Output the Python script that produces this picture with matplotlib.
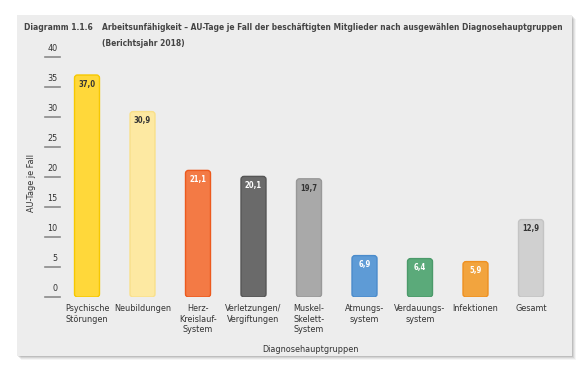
import matplotlib
matplotlib.use("Agg")
import matplotlib.pyplot as plt
from matplotlib.patches import FancyBboxPatch, Rectangle
from matplotlib.transforms import blended_transform_factory

# data
categories = ["Psychische\nStörungen", "Neubildungen", "Herz-\nKreislauf-\nSystem",
              "Verletzungen/\nVergiftungen", "Muskel-\nSkelett-\nSystem", "Atmungs-\nsystem",
              "Verdauungs-\nsystem", "Infektionen", "Gesamt"]
values = [37.0, 30.9, 21.1, 20.1, 19.7, 6.9, 6.4, 5.9, 12.9]
value_labels = ["37,0", "30,9", "21,1", "20,1", "19,7", "6,9", "6,4", "5,9", "12,9"]
yticks = [0, 5, 10, 15, 20, 25, 30, 35, 40]

colors = ["#FFD83A", "#FDE9A2", "#F37A45", "#6A6A6A", "#A9A9A9", "#5E9BD6", "#5BAA7A", "#F2A43E", "#D0D0D0"]
edges = ["#F6C800", "#F9E08A", "#EC5A1E", "#555555", "#989898", "#4A8BCB", "#4B9A6A", "#EE9020", "#C4C4C4"]
label_colors = ["#333333", "#333333", "white", "white", "#333333", "white", "white", "white", "#333333"]

plt.rcParams["font.family"] = ["DejaVu Sans"]
plt.rcParams["font.stretch"] = "condensed"

W, H = 587, 373
fig = plt.figure(figsize=(W / 100, H / 100), dpi=100)
fig.patch.set_facecolor("white")

def fx(px):
    return px / W

def fy(py):
    return 1 - py / H

# panel with a soft shadow
for k, a in enumerate([0.10, 0.08, 0.06, 0.04]):
    fig.patches.append(Rectangle((fx(17 + k + 1), fy(356 + k + 1)), fx(555), 341 / H,
                                 transform=fig.transFigure, facecolor="black", alpha=a,
                                 edgecolor="none", zorder=-3))
fig.patches.append(Rectangle((fx(17), fy(356)), fx(555), 341 / H, transform=fig.transFigure,
                             facecolor="#EDEDED", edgecolor="none", zorder=-2))

ax = fig.add_axes([fx(59.25), fy(297), fx(499.5), 240 / H])
ax.set_facecolor("none")
ax.set_xlim(-0.5, len(values) - 0.5)
ax.set_ylim(0, 40)
for s in ax.spines.values():
    s.set_visible(False)
ax.set_yticks([])

w = 0.45
asp = 9.0
for i, v in enumerate(values):
    p = FancyBboxPatch((i - w / 2, 0), w, v, boxstyle="round,pad=0,rounding_size=0.055",
                       mutation_aspect=asp, facecolor=colors[i], edgecolor=edges[i], lw=1.0)
    ax.add_patch(p)
    ax.text(i, v - 0.8, value_labels[i], ha="center", va="top", fontsize=5.5,
            fontweight="bold", color=label_colors[i])

ax.set_xticks(range(len(categories)))
ax.set_xticklabels(categories, fontsize=6.5, color="#333333", linespacing=1.25)
ax.tick_params(axis="x", length=0, pad=5)

# y ticks drawn as short lines with numbers above
tr = blended_transform_factory(ax.transAxes, ax.transData)
for t in yticks:
    ax.plot([-0.028, 0.002], [t, t], transform=tr, color="#8A8A8A", lw=1.2, clip_on=False)
    ax.text(-0.004, t + 0.6, str(t), transform=tr, ha="right", va="bottom",
            fontsize=6.5, color="#333333")

fig.text(fx(32), fy(183), "AU-Tage je Fall", rotation=90, ha="center", va="center",
         fontsize=6.5, color="#333333")
fig.text(fx(310), fy(350), "Diagnosehauptgruppen", ha="center", va="center",
         fontsize=6.5, color="#333333")

fig.text(fx(24), fy(28), "Diagramm 1.1.6", ha="left", va="center", fontsize=6.1,
         fontweight="bold", color="#444444")
fig.text(fx(102), fy(28), "Arbeitsunfähigkeit – AU-Tage je Fall der beschäftigten Mitglieder "
         "nach ausgewählen Diagnosehauptgruppen", ha="left", va="center", fontsize=6.05,
         fontweight="bold", color="#444444")
fig.text(fx(102), fy(43), "(Berichtsjahr 2018)", ha="left", va="center", fontsize=6.05,
         fontweight="bold", color="#444444")

fig.savefig("out.png", dpi=100)
